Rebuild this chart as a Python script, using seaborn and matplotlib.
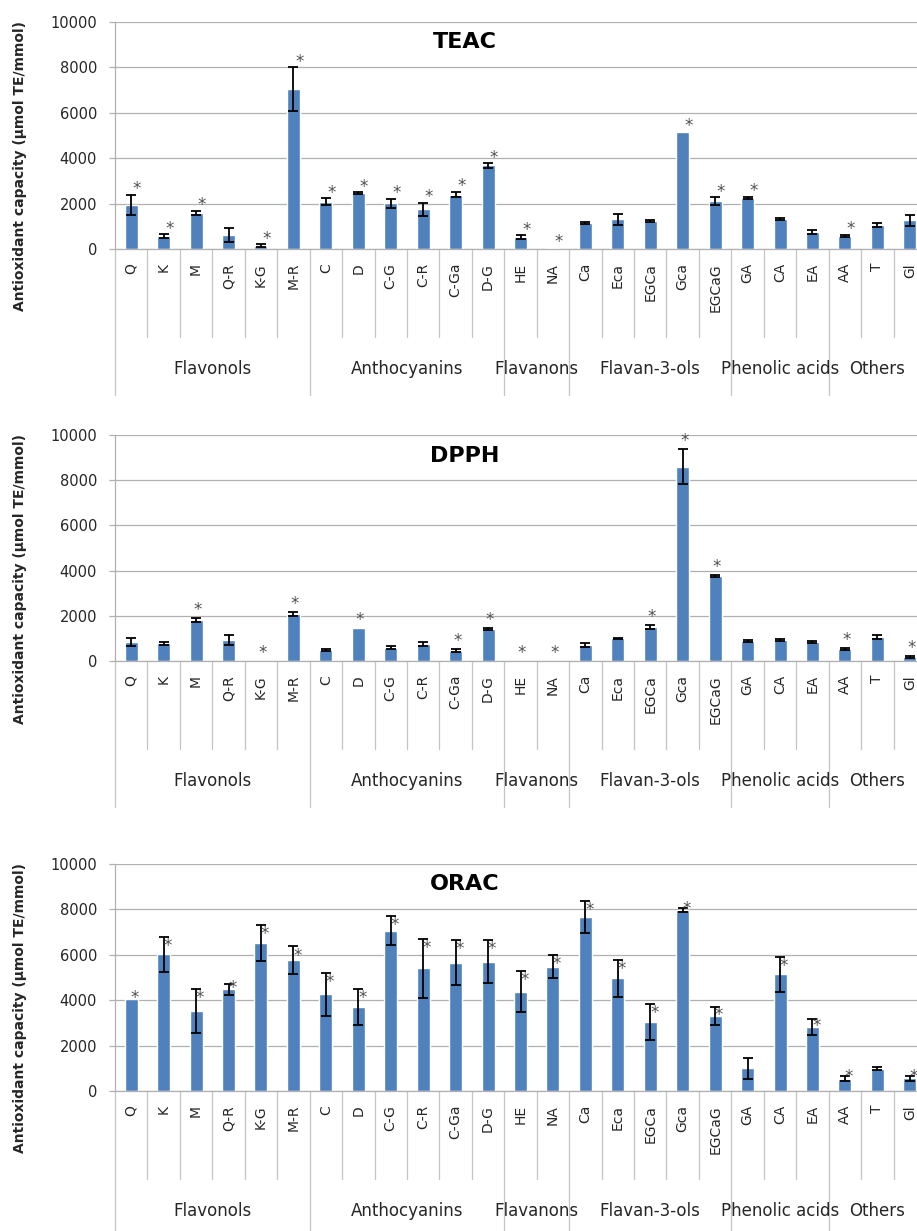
import numpy as np
import pandas as pd
import matplotlib
matplotlib.use("Agg")
import matplotlib.pyplot as plt
import matplotlib.transforms as mtransforms
import seaborn as sns

# ---------------- data ----------------
categories = ["Q", "K", "M", "Q-R", "K-G", "M-R", "C", "D", "C-G", "C-R", "C-Ga", "D-G",
              "HE", "NA", "Ca", "Eca", "EGCa", "Gca", "EGCaG", "GA", "CA", "EA", "AA", "T", "Gl"]
group_names = ["Flavonols", "Anthocyanins", "Flavanons", "Flavan-3-ols", "Phenolic acids", "Others"]
group_sizes = [6, 6, 2, 5, 3, 3]

teac_values = [1950, 570, 1580, 620, 150, 7050, 2080, 2450, 2020, 1750, 2400, 3680,
               530, 40, 1150, 1300, 1240, 5170, 2100, 2260, 1320, 740, 590, 1060, 1260]
teac_errors = [450, 80, 100, 300, 60, 950, 150, 40, 200, 280, 110, 100,
               80, 0, 60, 250, 50, 0, 180, 40, 30, 80, 40, 100, 250]
teac_sig = [1, 1, 1, 0, 1, 1, 1, 1, 1, 1, 1, 1, 1, 1, 0, 0, 0, 1, 1, 1, 0, 0, 1, 0, 0]

dpph_values = [830, 780, 1810, 950, 0, 2080, 490, 1450, 590, 750, 460, 1400,
               0, 0, 720, 1000, 1500, 8600, 3760, 880, 920, 830, 520, 1050, 190]
dpph_errors = [180, 50, 80, 220, 0, 100, 40, 0, 80, 100, 60, 40,
               0, 0, 80, 30, 80, 770, 40, 30, 50, 40, 50, 80, 40]
dpph_sig = [0, 0, 1, 0, 1, 1, 0, 1, 0, 0, 1, 1, 1, 1, 0, 0, 1, 1, 1, 0, 0, 0, 1, 0, 1]

orac_values = [4040, 6020, 3520, 4480, 6510, 5770, 4260, 3710, 7060, 5400, 5650, 5700,
               4370, 5480, 7680, 4960, 3050, 7970, 3300, 1000, 5140, 2800, 550, 980, 560]
orac_errors = [0, 780, 960, 250, 800, 600, 950, 800, 650, 1300, 1000, 950,
               900, 500, 700, 800, 800, 100, 400, 470, 780, 350, 100, 60, 100]
orac_sig = [1, 1, 1, 1, 1, 1, 1, 1, 1, 1, 1, 1, 1, 1, 1, 1, 1, 1, 1, 0, 1, 1, 1, 0, 1]

panel_titles = ["TEAC", "DPPH", "ORAC"]
y_label = "Antioxidant capacity (µmol TE/mmol)"
y_ticks = [0, 2000, 4000, 6000, 8000, 10000]

# ---------------- style ----------------
sns.set_style("white")
plt.rcParams["font.family"] = ["DejaVu Sans"]

W, H, DPI = 917, 1231, 100
fig = plt.figure(figsize=(W / DPI, H / DPI), dpi=DPI)

BAR = "#4F81BD"
GRID = "#b0b0b0"
SEP = "#c4c4c4"
TXT = "#262626"
AST = "#505050"

AX_LEFT, AX_RIGHT = 115.0, 926.0
panel_px = [(22, 249), (435, 661), (864, 1091)]
# asterisk placement per panel: (offset above error top, min offset above value, x shift)
ast_place = [(450, 300, 0.18), (560, 300, 0.05), (-200, 250, 0.12)]

datasets = [(teac_values, teac_errors, teac_sig),
            (dpph_values, dpph_errors, dpph_sig),
            (orac_values, orac_errors, orac_sig)]

n = len(categories)
bounds_group = set()
acc = 0
for s in group_sizes:
    bounds_group.add(acc)
    acc += s
bounds_group.add(acc)

for p, (title, (vals, errs, sig), (top, bot), (a_off, a_min, a_dx)) in enumerate(
        zip(panel_titles, datasets, panel_px, ast_place)):
    ax = fig.add_axes([AX_LEFT / W, 1 - bot / H, (AX_RIGHT - AX_LEFT) / W, (bot - top) / H])
    h_px = bot - top
    df = pd.DataFrame({"compound": categories, "value": vals})
    sns.barplot(data=df, x="compound", y="value", order=categories, color=BAR,
                saturation=1, width=0.4, errorbar=None, ax=ax, zorder=2)

    xs = np.arange(n)
    v = np.array(vals, dtype=float)
    e = np.array(errs, dtype=float)
    m = e > 0
    ax.errorbar(xs[m], v[m], yerr=e[m], fmt="none", ecolor="black",
                elinewidth=1.3, capsize=3.5, capthick=1.3, zorder=3)

    ax.set_xlim(-0.5, n - 0.5)
    ax.set_ylim(0, 10000)
    ax.set_yticks(y_ticks)
    ax.set_yticklabels([str(t) for t in y_ticks])
    ax.yaxis.grid(True, color=GRID, lw=0.9)
    ax.xaxis.grid(False)
    ax.set_axisbelow(True)
    for s in ["top", "right"]:
        ax.spines[s].set_visible(False)
    for s in ["left", "bottom"]:
        ax.spines[s].set_color(GRID)
        ax.spines[s].set_linewidth(0.9)
    ax.tick_params(axis="y", left=True, length=4, width=0.9, color=GRID,
                   labelsize=10.5, labelcolor=TXT, pad=9, direction="out")
    ax.set_xticks(xs)
    ax.set_xticklabels(categories, rotation=90, fontsize=10, color=TXT)
    ax.tick_params(axis="x", bottom=False, length=0, pad=10)
    ax.set_xlabel("")
    ax.set_ylabel(y_label, fontsize=10, fontweight="bold", color=TXT, va="center")
    ax.yaxis.set_label_coords((20 - AX_LEFT) / (AX_RIGHT - AX_LEFT), (h_px - 144) / h_px)

    # title
    ax.text((465 - AX_LEFT) / (AX_RIGHT - AX_LEFT), 1 - 26.5 / h_px, title,
            transform=ax.transAxes, ha="center", va="baseline",
            fontsize=16, fontweight="bold", color="black")

    # significance asterisks
    trans = mtransforms.offset_copy(ax.transData, fig=fig, x=0, y=-6.9, units="points")
    for i in range(n):
        if sig[i]:
            y = max(v[i] + e[i] + a_off, v[i] + a_min)
            ax.text(i + a_dx, y, "*", transform=trans, ha="center", va="baseline",
                    fontsize=12, color=AST, zorder=4, clip_on=False)

    # multi-level category axis separators
    xt = ax.get_xaxis_transform()
    for k in range(n + 1):
        xb = k - 0.5
        depth = 146 if k in bounds_group else 88
        ax.plot([xb, xb], [0, -depth / h_px], transform=xt, color=SEP, lw=0.9,
                clip_on=False, zorder=1)
    # group labels
    acc = 0
    for name, s in zip(group_names, group_sizes):
        cx = acc + (s - 1) / 2
        ax.text(cx, -120 / h_px, name, transform=xt, ha="center", va="center",
                fontsize=12, color=TXT, clip_on=False)
        acc += s

fig.savefig("out.png", dpi=DPI)
